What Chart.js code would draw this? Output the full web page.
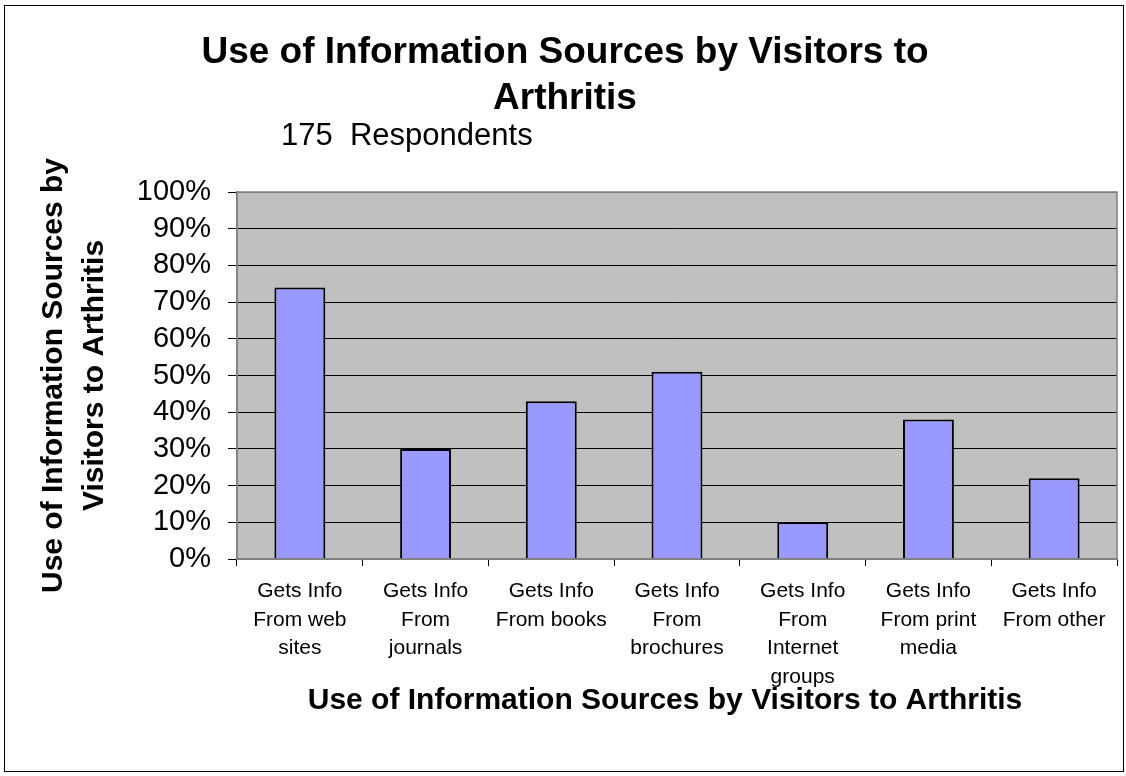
<!DOCTYPE html>
<html>
<head>
<meta charset="utf-8">
<script src="https://cdn.jsdelivr.net/npm/chart.js@4.4.1/dist/chart.umd.min.js"></script>
<style>
  html, body { margin: 0; padding: 0; background: #fff; }
  #wrap { width: 1126px; height: 776px; }
</style>
</head>
<body>
<div id="wrap"><canvas id="myChart" width="1126" height="776"></canvas></div>
<script>
const categories = [
    ['Gets Info', 'From web', 'sites'],
    ['Gets Info', 'From', 'journals'],
    ['Gets Info', 'From books'],
    ['Gets Info', 'From', 'brochures'],
    ['Gets Info', 'From', 'Internet', 'groups'],
    ['Gets Info', 'From print', 'media'],
    ['Gets Info', 'From other']
];
const percents = [74, 30, 43, 51, 10, 38, 22];
const yTickValues = [0, 10, 20, 30, 40, 50, 60, 70, 80, 90, 100];

const titleLines = ['Use of Information Sources by Visitors to', 'Arthritis'];
const subtitleText = '175  Respondents';
const yTitleLines = ['Use of Information Sources by', 'Visitors to Arthritis'];
const xTitleText = 'Use of Information Sources by Visitors to Arthritis';

const FONT = '"Liberation Sans", Arial, sans-serif';

const chartDecor = {
    id: 'chart_decor',
    beforeDraw: (chart) => {
        const ctx = chart.ctx;
        const a = chart.chartArea;
        ctx.save();
        ctx.fillStyle = '#ffffff';
        ctx.fillRect(0, 0, chart.width, chart.height);
        ctx.fillStyle = '#c0c0c0';
        ctx.fillRect(a.left, a.top, a.right - a.left, a.bottom - a.top);
        ctx.restore();
    },
    afterDraw: (chart) => {
        const ctx = chart.ctx;
        const a = chart.chartArea;
        ctx.save();
        // plot frame
        ctx.strokeStyle = '#808080';
        ctx.lineWidth = 1.5;
        ctx.strokeRect(a.left, a.top, a.right - a.left, a.bottom - a.top);
        // outer frame
        ctx.strokeStyle = '#000000';
        ctx.lineWidth = 1;
        ctx.strokeRect(4.5, 5.5, 1119, 766);

        ctx.fillStyle = '#000000';
        ctx.textBaseline = 'middle';
        // main title
        ctx.textAlign = 'center';
        ctx.font = 'bold 37px ' + FONT;
        ctx.fillText(titleLines[0], 565, 53);
        ctx.fillText(titleLines[1], 565, 99);
        // subtitle
        ctx.textAlign = 'left';
        ctx.font = '31px ' + FONT;
        ctx.fillText(subtitleText, 281, 136);
        // x axis title
        ctx.textAlign = 'center';
        ctx.font = 'bold 30px ' + FONT;
        ctx.fillText(xTitleText, 665, 701);
        // y axis title
        ctx.translate(0, (a.top + a.bottom) / 2);
        ctx.rotate(-Math.PI / 2);
        ctx.fillText(yTitleLines[0], 0, 54);
        ctx.fillText(yTitleLines[1], 0, 95);
        ctx.restore();
    }
};

const ctx = document.getElementById('myChart').getContext('2d');
const myChart = new Chart(ctx, {
    type: 'bar',
    data: {
        labels: categories,
        datasets: [{
            data: percents,
            backgroundColor: '#9999ff',
            borderColor: '#000000',
            borderWidth: 2,
            barPercentage: 0.405,
            categoryPercentage: 1
        }]
    },
    plugins: [chartDecor],
    options: {
        responsive: false,
        animation: false,
        layout: { padding: { top: 192, right: 9, bottom: 0, left: 0 } },
        plugins: {
            legend: { display: false },
            title: { display: false },
            tooltip: { enabled: false }
        },
        scales: {
            x: {
                afterFit: (scale) => { scale.height = 217; },
                grid: {
                    offset: true,
                    drawOnChartArea: false,
                    tickLength: 7,
                    color: '#000000'
                },
                border: { color: '#808080', width: 1.5 },
                ticks: {
                    color: '#000000',
                    padding: 11,
                    maxRotation: 0,
                    autoSkip: false,
                    font: { family: FONT, size: 21, lineHeight: 28.5 / 21 }
                }
            },
            y: {
                min: 0,
                max: 100,
                afterFit: (scale) => { scale.width = 237; },
                afterBuildTicks: (scale) => {
                    scale.ticks = yTickValues.map(v => ({ value: v }));
                },
                grid: {
                    color: (c) => (c.tick && (c.tick.value === 0 || c.tick.value === 100)) ? '#808080' : '#000000',
                    tickColor: '#000000',
                    tickLength: 9,
                    lineWidth: 1
                },
                border: { color: '#808080', width: 1.5 },
                ticks: {
                    color: '#000000',
                    padding: 17,
                    autoSkip: false,
                    font: { family: FONT, size: 29 },
                    callback: function(value) {
                        return value + '%';
                    }
                }
            }
        }
    }
});
</script>
</body>
</html>
